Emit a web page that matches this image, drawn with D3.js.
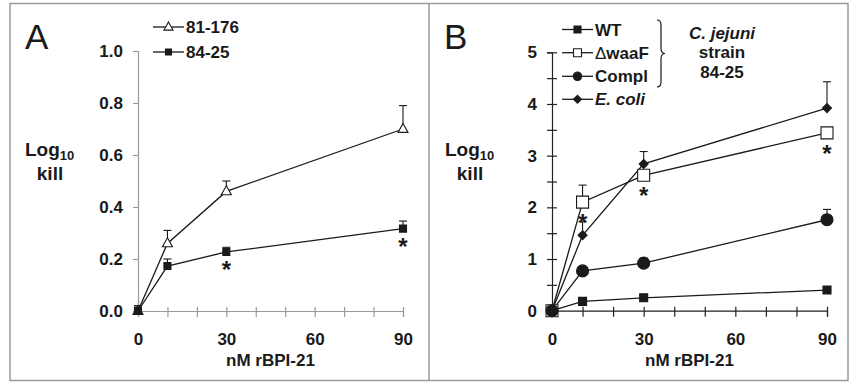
<!DOCTYPE html>
<html>
<head>
<meta charset="utf-8">
<script src="https://cdn.jsdelivr.net/npm/d3@7"></script>
<style>
  body { margin: 0; background: #fff; }
  svg { display: block; font-family: "Liberation Sans", Arial, sans-serif; }
</style>
</head>
<body>
<div id="chart"></div>
<script>
// doses (nM rBPI-21), shared by both panels
const doses = [0, 10, 30, 90];

// Panel A: two C. jejuni strains
const namesA = ['81-176', '84-25'];
const killA_81176 = [0.0, 0.26, 0.46, 0.70];
const errA_81176 = [0.02, 0.05, 0.04, 0.09];
const killA_8425 = [0.0, 0.173, 0.227, 0.317];
const errA_8425 = [0.02, 0.027, 0.018, 0.029];
const starsA = [30, 90]; // asterisks under 84-25

// Panel B: 84-25 mutants + E. coli
const namesB = ['WT', 'waaF', 'Compl', 'E. coli'];
const killB_WT = [0.0, 0.18, 0.25, 0.40];
const errB_WT = [0, 0, 0, 0];
const killB_waaF = [0.0, 2.10, 2.62, 3.44];
const errB_waaF = [0, 0.33, 0.08, 0.1];
const killB_Compl = [0.0, 0.77, 0.92, 1.76];
const errB_Compl = [0, 0.05, 0.1, 0.2];
const killB_Ecoli = [0.0, 1.46, 2.84, 3.92];
const errB_Ecoli = [0, 0.26, 0.24, 0.51];
const starsB = [10, 30, 90]; // asterisks under waaF

const ticksYA = [0, 0.2, 0.4, 0.6, 0.8, 1.0];
const ticksYB = d3.range(0, 5.01, 0.5);
const ticksX = d3.range(0, 91, 10);

const W = 849, H = 383;
const INK = '#1a1a1a';

const svg = d3.select('#chart').append('svg')
  .attr('width', W).attr('height', H);

// frame + divider
svg.append('rect')
  .attr('x', 10).attr('y', 3.5).attr('width', 838).attr('height', 377)
  .attr('fill', 'none').attr('stroke', '#9a9a9a').attr('stroke-width', 1.5);
svg.append('line')
  .attr('x1', 429).attr('x2', 429).attr('y1', 3.5).attr('y2', 380.5)
  .attr('stroke', '#9a9a9a').attr('stroke-width', 1.5);

const markerPath = (shape, s) => {
  if (shape === 'square') return `M${-s / 2},${-s / 2}h${s}v${s}h${-s}Z`;
  if (shape === 'diamond') return `M0,${-s / 2}L${s / 2},0L0,${s / 2}L${-s / 2},0Z`;
  if (shape === 'triangle') {
    const h = s * 0.9;
    return `M0,${-h * 0.62}L${s / 2},${h * 0.38}L${-s / 2},${h * 0.38}Z`;
  }
  return d3.symbol(d3.symbolCircle, Math.PI * s * s / 4)();
};

const drawMarker = (g, shape, size, filled, x, y) => {
  g.append('path')
    .attr('transform', `translate(${x},${y})`)
    .attr('d', markerPath(shape, size))
    .attr('fill', filled ? INK : '#fff')
    .attr('stroke', INK)
    .attr('stroke-width', 1.1);
};

const drawPanel = (cfg) => {
  const g = svg.append('g');
  const x = d3.scaleLinear().domain([0, 90]).range(cfg.xRange);
  const y = d3.scaleLinear().domain(cfg.yDomain).range(cfg.yRange);

  // x axis
  const xAxis = g.append('g')
    .attr('transform', `translate(0,${cfg.yRange[0]})`)
    .call(d3.axisBottom(x).tickValues(ticksX).tickSizeOuter(0).tickSize(6).tickPadding(16)
      .tickFormat((d) => (d % 30 === 0 ? d : '')));
  xAxis.selectAll('.tick line').attr('y1', -4);

  // y axis
  const yAxis = g.append('g')
    .attr('transform', `translate(${cfg.xRange[0]},0)`)
    .call(d3.axisLeft(y).tickValues(cfg.yTicks).tickSizeOuter(0).tickSize(5).tickPadding(10)
      .tickFormat(cfg.yFormat));
  if (cfg.crossTicks) yAxis.selectAll('.tick line').attr('x1', 5);

  [xAxis, yAxis].forEach((ax) => {
    ax.select('.domain').attr('stroke', cfg.axisColor).attr('stroke-width', 1.2);
    ax.selectAll('.tick line').attr('stroke', cfg.axisColor).attr('stroke-width', 1.2);
    ax.selectAll('.tick text')
      .attr('fill', INK)
      .style('font-size', '17px')
      .style('font-weight', 'bold');
  });

  const line = d3.line().x((d, i) => x(doses[i])).y((d) => y(d));

  // error bars
  cfg.series.forEach((s) => {
    s.values.forEach((v, i) => {
      if (!s.errors[i]) return;
      const top = y(v + s.errors[i]);
      g.append('line')
        .attr('x1', x(doses[i])).attr('x2', x(doses[i]))
        .attr('y1', y(v)).attr('y2', top)
        .attr('stroke', INK).attr('stroke-width', 1.1);
      g.append('line')
        .attr('x1', x(doses[i]) - 4).attr('x2', x(doses[i]) + 4)
        .attr('y1', top).attr('y2', top)
        .attr('stroke', INK).attr('stroke-width', 1.1);
    });
  });

  // lines
  cfg.series.forEach((s) => {
    g.append('path')
      .datum(s.values)
      .attr('fill', 'none')
      .attr('stroke', INK)
      .attr('stroke-width', 1.3)
      .attr('d', line);
  });

  // markers
  cfg.series.forEach((s) => {
    s.values.forEach((v, i) => drawMarker(g, s.shape, s.size, s.filled, x(doses[i]), y(v)));
  });

  // asterisks
  const starSeries = cfg.series[cfg.starIndex];
  cfg.stars.forEach((dose) => {
    const i = doses.indexOf(dose);
    g.append('text')
      .attr('x', x(dose))
      .attr('y', y(starSeries.values[i]) + cfg.starOffset)
      .attr('text-anchor', 'middle')
      .attr('fill', INK)
      .style('font-size', '24px')
      .style('font-weight', 'bold')
      .text('*');
  });

  // panel letter
  g.append('text')
    .attr('x', cfg.letterX).attr('y', 49)
    .attr('fill', INK)
    .style('font-size', '35px')
    .text(cfg.letter);

  // y label
  const yl = g.append('text')
    .attr('x', cfg.logX).attr('y', 156)
    .attr('fill', INK)
    .style('font-size', '19px')
    .style('font-weight', 'bold');
  yl.append('tspan').text('Log');
  yl.append('tspan').attr('dy', 4).style('font-size', '13px').text('10');
  g.append('text')
    .attr('x', cfg.logX + 25).attr('y', 180)
    .attr('text-anchor', 'middle')
    .attr('fill', INK)
    .style('font-size', '19px')
    .style('font-weight', 'bold')
    .text('kill');

  // x label
  g.append('text')
    .attr('x', (cfg.xRange[0] + cfg.xRange[1]) / 2)
    .attr('y', 366)
    .attr('text-anchor', 'middle')
    .attr('fill', INK)
    .style('font-size', '17px')
    .style('font-weight', 'bold')
    .text('nM rBPI-21');

  // legend
  cfg.series.forEach((s, k) => {
    const ly = cfg.legend.y[k];
    g.append('line')
      .attr('x1', cfg.legend.x0).attr('x2', cfg.legend.x1)
      .attr('y1', ly).attr('y2', ly)
      .attr('stroke', INK).attr('stroke-width', 1.3);
    drawMarker(g, s.shape, s.legendSize, s.filled, (cfg.legend.x0 + cfg.legend.x1) / 2, ly);
    const t = g.append('text')
      .attr('x', cfg.legend.x1 + 2).attr('y', ly + 6)
      .attr('fill', INK)
      .style('font-size', '17px')
      .style('font-weight', 'bold');
    if (s.name === 'waaF') {
      t.append('tspan').style('font-weight', 'normal').text('\u0394');
      t.append('tspan').text('waaF');
    } else if (s.name === 'E. coli') {
      t.style('font-style', 'italic').text(s.name);
    } else {
      t.text(s.name);
    }
  });
  return g;
};

drawPanel({
  letter: 'A', letterX: 25, logX: 25,
  xRange: [138, 403], yRange: [311, 51], yDomain: [0, 1],
  yTicks: ticksYA, yFormat: d3.format('.1f'),
  axisColor: '#9a9a9a', crossTicks: false,
  series: [
    { name: namesA[0], values: killA_81176, errors: errA_81176, shape: 'triangle', size: 10, legendSize: 9, filled: false },
    { name: namesA[1], values: killA_8425, errors: errA_8425, shape: 'square', size: 7, legendSize: 6, filled: true }
  ],
  starIndex: 1, stars: starsA, starOffset: 26,
  legend: { x0: 153, x1: 184, y: [27, 52] }
});

const gB = drawPanel({
  letter: 'B', letterX: 444, logX: 445,
  xRange: [552, 827], yRange: [310.7, 52.3], yDomain: [0, 5],
  yTicks: ticksYB, yFormat: (d) => (d % 1 === 0 ? d : ''),
  axisColor: '#222', crossTicks: true,
  series: [
    { name: namesB[0], values: killB_WT, errors: errB_WT, shape: 'square', size: 8, legendSize: 7, filled: true },
    { name: namesB[1], values: killB_waaF, errors: errB_waaF, shape: 'square', size: 12, legendSize: 8, filled: false },
    { name: namesB[2], values: killB_Compl, errors: errB_Compl, shape: 'circle', size: 12, legendSize: 8.5, filled: true },
    { name: namesB[3], values: killB_Ecoli, errors: errB_Ecoli, shape: 'diamond', size: 9, legendSize: 8, filled: true }
  ],
  starIndex: 1, stars: starsB, starOffset: 29,
  legend: { x0: 562, x1: 593, y: [29.5, 52.7, 76.3, 99.3] }
});

// brace + strain note
gB.append('path')
  .attr('d', 'M657,20Q661,20 661,25L661,48Q661,53.5 665,53.5Q661,53.5 661,59L661,82Q661,87 657,87')
  .attr('fill', 'none').attr('stroke', INK).attr('stroke-width', 1.2);
const note = [['C. jejuni', true], ['strain', false], ['84-25', false]];
note.forEach(([txt, it], k) => {
  gB.append('text')
    .attr('x', 722).attr('y', 39 + k * 19.3)
    .attr('text-anchor', 'middle')
    .attr('fill', INK)
    .style('font-size', '17px')
    .style('font-weight', 'bold')
    .style('font-style', it ? 'italic' : 'normal')
    .text(txt);
});
</script>
</body>
</html>
